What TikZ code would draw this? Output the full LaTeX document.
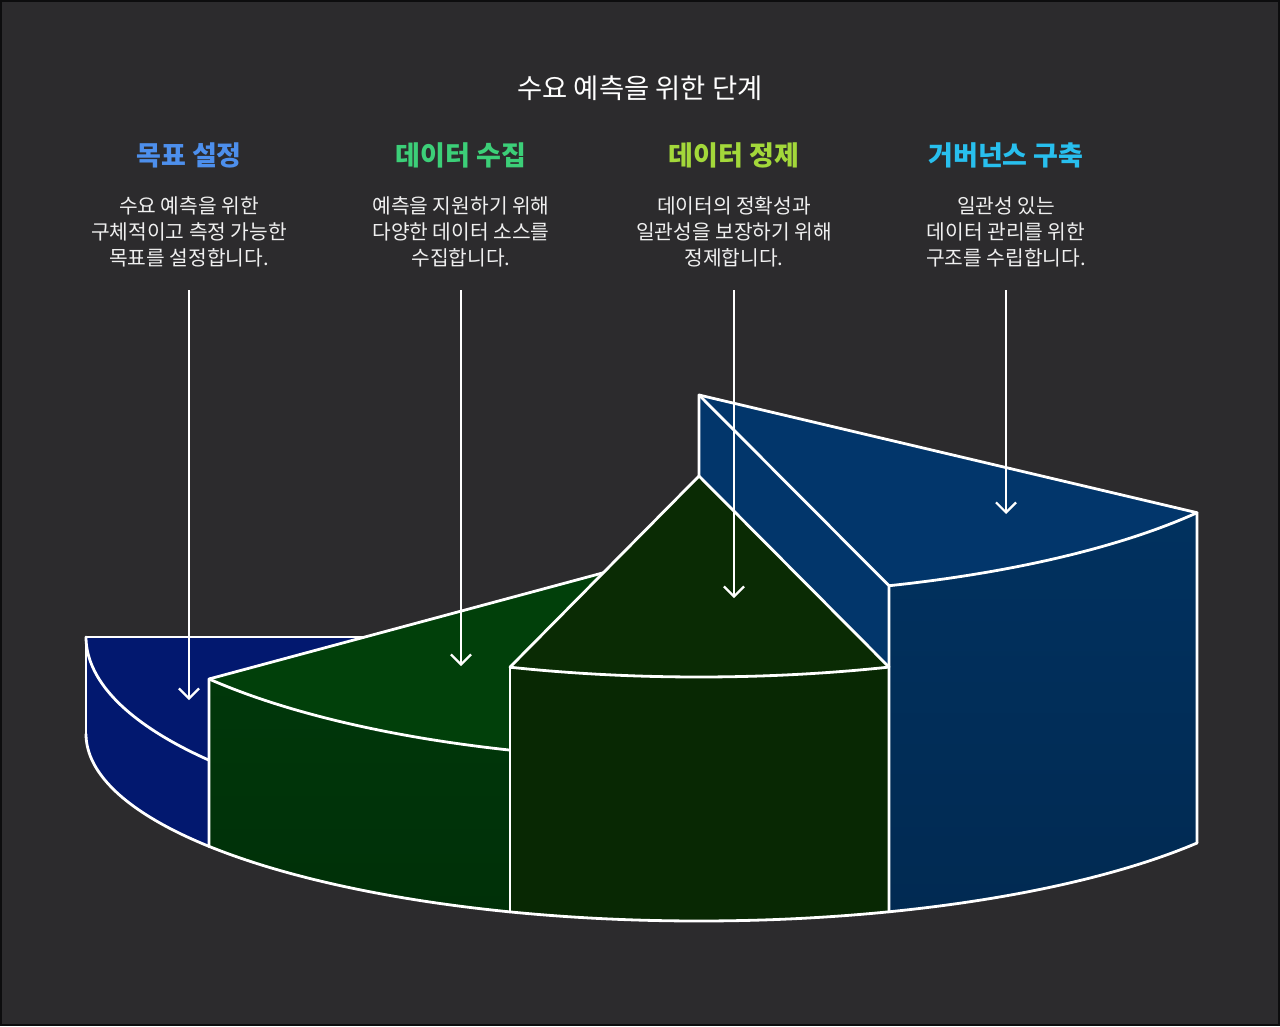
\documentclass[tikz,border=0pt]{standalone}
\usepackage{fontspec}
\setmainfont{Noto Sans CJK KR}
\usetikzlibrary{arrows.meta}
\definecolor{bgc}{HTML}{2C2B2D}
\definecolor{blL}{HTML}{02186F}
\definecolor{grT}{HTML}{01400A}
\definecolor{grF}{HTML}{00370A}
\definecolor{grB}{HTML}{003008}
\definecolor{dgT}{HTML}{0A2B04}
\definecolor{dgF}{HTML}{082803}
\definecolor{brT}{HTML}{02366B}
\definecolor{brF}{HTML}{01315F}
\definecolor{brB}{HTML}{012A52}
\definecolor{hA}{HTML}{4D8FEC}
\definecolor{hB}{HTML}{3CCF78}
\definecolor{hC}{HTML}{A3D83A}
\definecolor{hD}{HTML}{28BFEE}
\definecolor{txt}{HTML}{F0F0F0}
\begin{document}
\begin{tikzpicture}[x=1pt,y=-1pt,
  edge/.style={draw=white, line width=2.8pt, line join=round, line cap=round},
  arr/.style={draw=white, line width=2.2pt, -{Straight Barb[length=10pt,width=20pt]}},
  ttlstyle/.style={text=white, font=\fontsize{27.4}{32}\selectfont, inner sep=0pt},
  headstyle/.style={font=\fontsize{27}{32}\selectfont\bfseries, inner sep=0pt},
  bodystyle/.style={text=txt, font=\fontsize{20.3}{26}\selectfont, align=center, inner sep=0pt}]
\useasboundingbox (0,0) rectangle (1280,1026);
\fill[bgc] (0,0) rectangle (1280,1026);
\draw[black!70!bgc, line width=2pt] (1,1) rectangle (1279,1025);

% key points
\coordinate (BRapex) at (699,395);
\coordinate (BRr) at (1197,512.7);
\coordinate (BRfl) at (889,585.7);
\coordinate (BRrb) at (1197,843);
\coordinate (BRlb) at (889,911.8);
\coordinate (DGapex) at (699,476);
\coordinate (DGl) at (510,667.1);
\coordinate (DGr) at (889,667.1);
\coordinate (DGlb) at (510,911.8);
\coordinate (GRtl) at (209,679);
\coordinate (GRc) at (699,547);
\coordinate (GRlb) at (209,846.4);
\coordinate (BLtl) at (86,637);
\coordinate (BLhid) at (380,637);
\coordinate (BLlb) at (86,734);

% ---- blue right sector (fills)
\fill[brT] (BRapex) -- (BRr) -- plot[domain=35.66:71.94,samples=40] ({699+613*cos(\x)},{397+198.5*sin(\x)}) -- cycle;
\fill[brT] (BRapex) -- (BRfl) -- (DGr) -- (DGapex) -- cycle;
\shade[top color=brF, bottom color=brB] plot[domain=71.94:35.66,samples=40] ({699+613*cos(\x)},{397+198.5*sin(\x)}) -- (BRrb) -- plot[domain=35.66:71.94,samples=40] ({699+613*cos(\x)},{734+187*sin(\x)}) -- cycle;

% ---- blue left sector
\fill[blL] (BLtl) -- (BLhid) -- (209,700) -- (GRlb) -- plot[domain=143.06:180,samples=40] ({699+613*cos(\x)},{734+187*sin(\x)}) -- cycle;
\draw[edge] (BLhid) -- (BLtl) -- (BLlb);
\draw[edge] plot[domain=180:143.06,samples=40] ({699+613*cos(\x)},{637+205*sin(\x)});
\draw[edge] plot[domain=180:143.06,samples=40] ({699+613*cos(\x)},{734+187*sin(\x)});

% ---- green sector
\fill[grT] (GRtl) -- (GRc) -- (DGl) -- (510,750) -- plot[domain=107.96:143.06,samples=40] ({699+613*cos(\x)},{557+203*sin(\x)}) -- cycle;
\shade[top color=grF, bottom color=grB] plot[domain=143.06:107.96,samples=40] ({699+613*cos(\x)},{557+203*sin(\x)}) -- plot[domain=107.96:143.06,samples=40] ({699+613*cos(\x)},{734+187*sin(\x)}) -- cycle;
\draw[edge] (GRc) -- (GRtl) -- (GRlb);
\draw[edge] plot[domain=143.06:107.96,samples=40] ({699+613*cos(\x)},{557+203*sin(\x)});
\draw[edge] plot[domain=143.06:107.96,samples=40] ({699+613*cos(\x)},{734+187*sin(\x)});

% ---- dark green sector
\fill[dgT] (DGapex) -- (DGl) -- plot[domain=107.96:71.94,samples=40] ({699+613*cos(\x)},{476+201*sin(\x)}) -- cycle;
\fill[dgF] plot[domain=107.96:71.94,samples=40] ({699+613*cos(\x)},{476+201*sin(\x)}) -- plot[domain=71.94:107.96,samples=40] ({699+613*cos(\x)},{734+187*sin(\x)}) -- cycle;
\draw[edge] (DGl) -- (DGapex) -- (DGr);
\draw[edge] plot[domain=107.96:71.94,samples=40] ({699+613*cos(\x)},{476+201*sin(\x)});
\draw[edge] (DGl) -- (DGlb);
\draw[edge] plot[domain=107.96:71.94,samples=40] ({699+613*cos(\x)},{734+187*sin(\x)});

% ---- blue right strokes
\draw[edge] (DGapex) -- (BRapex) -- (BRr) -- (BRrb);
\draw[edge] (BRapex) -- (BRfl) -- (BRlb);
\draw[edge] plot[domain=71.94:35.66,samples=40] ({699+613*cos(\x)},{397+198.5*sin(\x)});
\draw[edge] plot[domain=71.94:35.66,samples=40] ({699+613*cos(\x)},{734+187*sin(\x)});

% ---- texts
\node[ttlstyle] (ttl) at (640,88) {수요 예측을 위한 단계};
\node[headstyle, text=hA] (h1) at (189,155) {목표 설정};
\node[headstyle, text=hB] (h2) at (461,155) {데이터 수집};
\node[headstyle, text=hC] (h3) at (734,155) {데이터 정제};
\node[headstyle, text=hD] (h4) at (1006,155) {거버넌스 구축};
\node[bodystyle] (d1) at (189,232) {수요 예측을 위한\\구체적이고 측정 가능한\\목표를 설정합니다.};
\node[bodystyle] (d2) at (461,232) {예측을 지원하기 위해\\다양한 데이터 소스를\\수집합니다.};
\node[bodystyle] (d3) at (734,232) {데이터의 정확성과\\일관성을 보장하기 위해\\정제합니다.};
\node[bodystyle] (d4) at (1006,232) {일관성 있는\\데이터 관리를 위한\\구조를 수립합니다.};

% ---- arrows
\coordinate (s1) at (189,290); \coordinate (t1) at (189,700);
\coordinate (s2) at (461,290); \coordinate (t2) at (461,666);
\coordinate (s3) at (734,290); \coordinate (t3) at (734,598);
\coordinate (s4) at (1006,290); \coordinate (t4) at (1006,514);
\draw[arr] (s1) -- (t1);
\draw[arr] (s2) -- (t2);
\draw[arr] (s3) -- (t3);
\draw[arr] (s4) -- (t4);
\end{tikzpicture}
\end{document}
